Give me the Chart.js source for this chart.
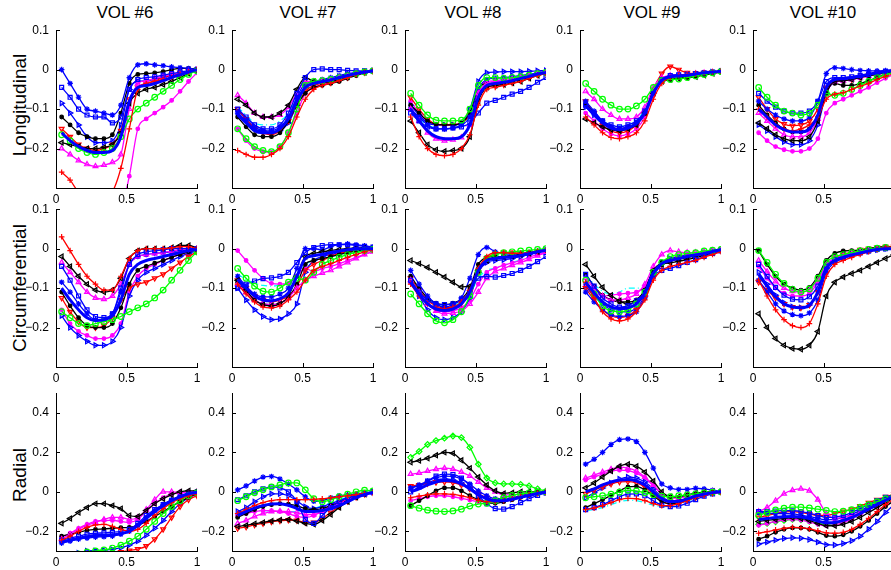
<!DOCTYPE html>
<html>
<head>
<meta charset="UTF-8">
<title>Strain curves per volunteer</title>
<script src="https://cdn.jsdelivr.net/npm/chart.js@4.4.1/dist/chart.umd.min.js"></script>
<style>
  html, body { margin: 0; padding: 0; background: #fff; overflow: hidden; }
  body { width: 891px; height: 570px; position: relative; font-family: "Liberation Sans", Arial, sans-serif; color: #000; }
  canvas { position: absolute; }
  .title { position: absolute; top: 4px; font-size: 17px; line-height: 17px; transform: translateX(-50%); white-space: nowrap; }
  .rowlab { position: absolute; left: 19px; font-size: 19px; line-height: 19px; transform: translate(-50%, -50%) rotate(-90deg); white-space: nowrap; }
</style>
</head>
<body>
<div class="title" style="left:125px">VOL #6</div>
<div class="title" style="left:308px">VOL #7</div>
<div class="title" style="left:473px">VOL #8</div>
<div class="title" style="left:652px">VOL #9</div>
<div class="title" style="left:823px">VOL #10</div>
<div class="rowlab" style="top:105px">Longitudinal</div>
<div class="rowlab" style="top:288px">Circumferential</div>
<div class="rowlab" style="top:475px">Radial</div>

<script>
  // normalised time (x) shared by every curve
  const xs = [0.04, 0.1, 0.16, 0.22, 0.28, 0.34, 0.4, 0.46, 0.52, 0.58, 0.64, 0.7, 0.76, 0.82, 0.88, 0.94, 1.0];
  const xTicks = [0, 0.5, 1];
  const yTicksStrain = [-0.2, -0.1, 0, 0.1];
  const yTicksRadial = [-0.2, 0, 0.2, 0.4];

  // series order: red+, green o, blue s, black <, magenta ^, blue *, black ., red v, blue >, magenta ., cyan -., mean, green d
  const long6 = [
    [-0.26,-0.28,-0.31,-0.32,-0.33,-0.33,-0.31,-0.25,-0.15,-0.05,-0.035,-0.03,-0.025,-0.02,-0.012,-0.006,0],
    [-0.165,-0.18,-0.2,-0.21,-0.215,-0.21,-0.2,-0.17,-0.125,-0.1,-0.085,-0.07,-0.055,-0.04,-0.025,-0.012,-0.003],
    [-0.045,-0.07,-0.1,-0.115,-0.12,-0.12,-0.135,-0.12,-0.05,-0.025,-0.02,-0.018,-0.014,-0.01,-0.006,-0.003,0],
    [-0.185,-0.19,-0.195,-0.2,-0.2,-0.197,-0.19,-0.16,-0.085,-0.06,-0.05,-0.045,-0.038,-0.03,-0.02,-0.01,-0.002],
    [-0.2,-0.215,-0.23,-0.24,-0.245,-0.242,-0.235,-0.215,-0.1,-0.035,-0.028,-0.022,-0.017,-0.012,-0.008,-0.004,0],
    [0,-0.035,-0.07,-0.1,-0.105,-0.11,-0.115,-0.09,-0.02,0.012,0.015,0.012,0.01,0.007,0.005,0.003,0],
    [-0.12,-0.14,-0.16,-0.17,-0.175,-0.175,-0.165,-0.11,-0.035,-0.012,-0.01,-0.008,-0.005,0,0.003,0.003,0.001],
    [-0.15,-0.17,-0.19,-0.2,-0.205,-0.2,-0.19,-0.155,-0.075,-0.045,-0.035,-0.028,-0.02,-0.013,-0.008,-0.004,0],
    [-0.085,-0.11,-0.14,-0.17,-0.185,-0.185,-0.18,-0.14,-0.05,-0.03,-0.028,-0.025,-0.02,-0.015,-0.01,-0.005,0],
    [-0.42,-0.43,-0.44,-0.44,-0.44,-0.43,-0.41,-0.36,-0.27,-0.15,-0.125,-0.11,-0.095,-0.078,-0.055,-0.03,-0.008],
    null,
    [-0.16,-0.18,-0.195,-0.205,-0.21,-0.21,-0.205,-0.17,-0.08,-0.045,-0.04,-0.035,-0.028,-0.02,-0.013,-0.006,0]
  ];
  const long7 = [
    [-0.205,-0.215,-0.222,-0.222,-0.215,-0.2,-0.17,-0.12,-0.075,-0.05,-0.04,-0.035,-0.028,-0.02,-0.012,-0.006,-0.003],
    [-0.15,-0.175,-0.195,-0.205,-0.208,-0.195,-0.16,-0.1,-0.04,-0.03,-0.028,-0.025,-0.02,-0.015,-0.01,-0.006,-0.003],
    [-0.1,-0.12,-0.14,-0.15,-0.15,-0.14,-0.11,-0.06,-0.02,0,0.002,0,0,-0.002,-0.003,-0.003,-0.003],
    [-0.075,-0.09,-0.11,-0.12,-0.12,-0.11,-0.09,-0.05,-0.02,-0.03,-0.032,-0.03,-0.025,-0.018,-0.012,-0.007,-0.004],
    [-0.065,-0.085,-0.11,-0.12,-0.12,-0.115,-0.095,-0.06,-0.03,-0.03,-0.028,-0.025,-0.02,-0.015,-0.01,-0.006,-0.003],
    [-0.11,-0.13,-0.15,-0.155,-0.155,-0.145,-0.12,-0.07,-0.035,-0.03,-0.025,-0.02,-0.015,-0.01,-0.007,-0.005,-0.003],
    [-0.12,-0.145,-0.165,-0.17,-0.17,-0.16,-0.13,-0.09,-0.06,-0.045,-0.04,-0.035,-0.03,-0.022,-0.015,-0.008,-0.004],
    [-0.1,-0.125,-0.15,-0.16,-0.165,-0.155,-0.13,-0.09,-0.055,-0.04,-0.035,-0.03,-0.025,-0.02,-0.012,-0.007,-0.004],
    [-0.105,-0.125,-0.145,-0.155,-0.16,-0.155,-0.135,-0.09,-0.045,-0.035,-0.03,-0.025,-0.018,-0.012,-0.008,-0.005,-0.003],
    [-0.15,-0.18,-0.2,-0.208,-0.21,-0.195,-0.16,-0.11,-0.06,-0.045,-0.038,-0.032,-0.025,-0.018,-0.012,-0.007,-0.004],
    [-0.095,-0.115,-0.135,-0.14,-0.14,-0.13,-0.11,-0.07,-0.04,-0.035,-0.03,-0.025,-0.02,-0.015,-0.01,-0.006,-0.003],
    [-0.115,-0.135,-0.155,-0.16,-0.16,-0.15,-0.125,-0.08,-0.045,-0.035,-0.03,-0.026,-0.02,-0.015,-0.01,-0.006,-0.003]
  ];
  const long8 = [
    [-0.12,-0.17,-0.2,-0.215,-0.218,-0.215,-0.2,-0.165,-0.09,-0.05,-0.045,-0.04,-0.035,-0.03,-0.022,-0.015,-0.01],
    [-0.06,-0.09,-0.115,-0.128,-0.13,-0.13,-0.128,-0.1,-0.04,-0.02,-0.02,-0.022,-0.02,-0.018,-0.014,-0.01,-0.007],
    [-0.11,-0.13,-0.145,-0.15,-0.15,-0.148,-0.145,-0.135,-0.11,-0.085,-0.078,-0.07,-0.062,-0.055,-0.045,-0.032,-0.02],
    [-0.13,-0.16,-0.19,-0.203,-0.207,-0.205,-0.2,-0.17,-0.08,-0.045,-0.04,-0.038,-0.034,-0.03,-0.022,-0.015,-0.01],
    [-0.1,-0.13,-0.16,-0.175,-0.18,-0.178,-0.172,-0.14,-0.06,-0.035,-0.03,-0.028,-0.024,-0.02,-0.015,-0.01,-0.006],
    [-0.1,-0.12,-0.14,-0.15,-0.15,-0.148,-0.14,-0.12,-0.05,-0.025,-0.022,-0.02,-0.018,-0.015,-0.012,-0.008,-0.005],
    [-0.09,-0.11,-0.13,-0.138,-0.14,-0.14,-0.135,-0.11,-0.05,-0.035,-0.035,-0.033,-0.03,-0.025,-0.02,-0.014,-0.008],
    [-0.07,-0.1,-0.125,-0.138,-0.14,-0.14,-0.135,-0.115,-0.06,-0.045,-0.04,-0.035,-0.03,-0.025,-0.018,-0.012,-0.008],
    [-0.09,-0.115,-0.135,-0.14,-0.14,-0.14,-0.135,-0.1,-0.03,-0.008,-0.006,-0.005,-0.005,-0.005,-0.004,-0.003,-0.002],
    [-0.08,-0.11,-0.13,-0.14,-0.142,-0.14,-0.135,-0.11,-0.05,-0.03,-0.028,-0.025,-0.022,-0.018,-0.014,-0.01,-0.006],
    [-0.1,-0.125,-0.14,-0.148,-0.15,-0.148,-0.14,-0.115,-0.055,-0.035,-0.03,-0.028,-0.025,-0.02,-0.015,-0.01,-0.006],
    [-0.1,-0.13,-0.155,-0.17,-0.175,-0.175,-0.17,-0.14,-0.07,-0.04,-0.035,-0.032,-0.028,-0.022,-0.017,-0.011,-0.007]
  ];
  const long9 = [
    [-0.12,-0.14,-0.16,-0.172,-0.175,-0.17,-0.16,-0.13,-0.075,-0.035,-0.02,-0.015,-0.012,-0.01,-0.008,-0.006,-0.004],
    [-0.035,-0.055,-0.075,-0.09,-0.1,-0.1,-0.092,-0.075,-0.045,-0.028,-0.025,-0.024,-0.02,-0.016,-0.012,-0.008,-0.005],
    [-0.09,-0.11,-0.13,-0.14,-0.145,-0.14,-0.13,-0.105,-0.06,-0.025,-0.015,-0.013,-0.012,-0.01,-0.008,-0.006,-0.004],
    [-0.125,-0.135,-0.145,-0.152,-0.155,-0.15,-0.14,-0.11,-0.06,-0.03,-0.025,-0.022,-0.02,-0.018,-0.014,-0.01,-0.006],
    [-0.055,-0.075,-0.1,-0.115,-0.125,-0.125,-0.12,-0.095,-0.045,-0.02,-0.015,-0.013,-0.012,-0.01,-0.008,-0.006,-0.004],
    [-0.08,-0.105,-0.13,-0.145,-0.15,-0.145,-0.135,-0.11,-0.06,-0.025,-0.015,-0.013,-0.012,-0.01,-0.008,-0.006,-0.004],
    [-0.085,-0.11,-0.13,-0.145,-0.15,-0.145,-0.135,-0.105,-0.055,-0.03,-0.025,-0.022,-0.02,-0.016,-0.012,-0.008,-0.005],
    [-0.08,-0.11,-0.14,-0.155,-0.16,-0.155,-0.14,-0.11,-0.05,-0.01,0.008,0,-0.008,-0.01,-0.008,-0.006,-0.004],
    [-0.095,-0.115,-0.135,-0.148,-0.152,-0.148,-0.135,-0.11,-0.06,-0.03,-0.02,-0.018,-0.015,-0.012,-0.009,-0.006,-0.004],
    [-0.11,-0.13,-0.15,-0.163,-0.168,-0.163,-0.15,-0.12,-0.065,-0.03,-0.02,-0.017,-0.015,-0.012,-0.009,-0.006,-0.004],
    [-0.09,-0.11,-0.13,-0.14,-0.143,-0.14,-0.13,-0.1,-0.055,-0.025,-0.018,-0.016,-0.014,-0.011,-0.008,-0.006,-0.004],
    [-0.09,-0.115,-0.135,-0.148,-0.152,-0.148,-0.137,-0.11,-0.06,-0.027,-0.018,-0.016,-0.014,-0.011,-0.008,-0.006,-0.004]
  ];
  const long10 = [
    [-0.1,-0.12,-0.14,-0.15,-0.155,-0.15,-0.14,-0.12,-0.075,-0.062,-0.058,-0.05,-0.042,-0.035,-0.025,-0.017,-0.01],
    [-0.045,-0.07,-0.09,-0.105,-0.11,-0.115,-0.11,-0.09,-0.06,-0.065,-0.06,-0.05,-0.04,-0.03,-0.02,-0.013,-0.007],
    [-0.06,-0.08,-0.095,-0.105,-0.11,-0.11,-0.105,-0.08,-0.03,-0.02,-0.02,-0.018,-0.015,-0.012,-0.008,-0.005,-0.002],
    [-0.135,-0.15,-0.165,-0.175,-0.18,-0.18,-0.17,-0.13,-0.06,-0.03,-0.028,-0.025,-0.02,-0.016,-0.012,-0.008,-0.004],
    [-0.11,-0.13,-0.15,-0.165,-0.17,-0.17,-0.16,-0.125,-0.06,-0.03,-0.028,-0.025,-0.02,-0.016,-0.012,-0.008,-0.004],
    [-0.08,-0.1,-0.115,-0.125,-0.13,-0.13,-0.12,-0.08,-0.01,0.005,0.003,0,-0.002,-0.003,-0.003,-0.002,-0.001],
    [-0.09,-0.115,-0.135,-0.15,-0.158,-0.158,-0.15,-0.12,-0.05,-0.035,-0.04,-0.04,-0.035,-0.028,-0.02,-0.012,-0.006],
    [-0.07,-0.1,-0.125,-0.138,-0.142,-0.14,-0.13,-0.1,-0.045,-0.03,-0.028,-0.025,-0.02,-0.015,-0.01,-0.006,-0.003],
    [-0.14,-0.155,-0.17,-0.183,-0.19,-0.19,-0.18,-0.14,-0.06,-0.03,-0.025,-0.022,-0.018,-0.014,-0.01,-0.006,-0.003],
    [-0.16,-0.18,-0.195,-0.203,-0.207,-0.207,-0.2,-0.175,-0.11,-0.085,-0.075,-0.065,-0.055,-0.045,-0.033,-0.022,-0.012],
    null,
    [-0.1,-0.12,-0.14,-0.152,-0.158,-0.158,-0.15,-0.115,-0.045,-0.025,-0.023,-0.02,-0.016,-0.012,-0.008,-0.005,-0.002]
  ];

  const circ6 = [
    [0.03,-0.005,-0.04,-0.07,-0.09,-0.105,-0.105,-0.07,-0.025,-0.005,0,0,0,0.002,0.005,0.005,0],
    [-0.16,-0.175,-0.19,-0.195,-0.19,-0.185,-0.18,-0.172,-0.16,-0.15,-0.14,-0.125,-0.105,-0.08,-0.055,-0.03,-0.008],
    [-0.045,-0.08,-0.12,-0.155,-0.172,-0.175,-0.165,-0.1,-0.04,-0.015,-0.008,-0.005,-0.003,0,0,0,0],
    [-0.02,-0.045,-0.07,-0.09,-0.105,-0.11,-0.105,-0.075,-0.025,-0.005,0,0,0,0.003,0.008,0.008,0.002],
    [-0.035,-0.06,-0.085,-0.11,-0.125,-0.128,-0.12,-0.09,-0.04,-0.02,-0.015,-0.012,-0.01,-0.006,-0.003,0,0],
    [-0.085,-0.11,-0.14,-0.165,-0.18,-0.18,-0.165,-0.11,-0.04,-0.02,-0.015,-0.012,-0.01,-0.008,-0.005,-0.003,0],
    [-0.11,-0.145,-0.175,-0.195,-0.2,-0.2,-0.19,-0.15,-0.09,-0.055,-0.045,-0.037,-0.03,-0.022,-0.015,-0.008,-0.003],
    [-0.125,-0.16,-0.185,-0.2,-0.2,-0.195,-0.175,-0.13,-0.1,-0.09,-0.085,-0.075,-0.065,-0.05,-0.035,-0.02,-0.008],
    [-0.17,-0.2,-0.22,-0.235,-0.245,-0.245,-0.235,-0.2,-0.12,-0.08,-0.06,-0.05,-0.04,-0.03,-0.02,-0.012,-0.005],
    [-0.155,-0.19,-0.21,-0.22,-0.228,-0.228,-0.22,-0.19,-0.11,-0.07,-0.05,-0.04,-0.03,-0.022,-0.015,-0.008,-0.003],
    null,
    [-0.1,-0.13,-0.155,-0.175,-0.182,-0.18,-0.17,-0.13,-0.065,-0.04,-0.03,-0.025,-0.02,-0.015,-0.01,-0.005,-0.002]
  ];
  const circ7 = [
    [-0.09,-0.115,-0.135,-0.148,-0.15,-0.145,-0.13,-0.11,-0.08,-0.055,-0.045,-0.038,-0.03,-0.022,-0.015,-0.008,-0.004],
    [-0.05,-0.075,-0.095,-0.108,-0.11,-0.1,-0.085,-0.075,-0.08,-0.06,-0.04,-0.03,-0.022,-0.015,-0.01,-0.005,-0.002],
    [-0.1,-0.09,-0.082,-0.076,-0.074,-0.07,-0.06,-0.035,-0.01,0.003,0.008,0.01,0.01,0.01,0.008,0.006,0.004],
    [-0.08,-0.105,-0.13,-0.142,-0.145,-0.14,-0.12,-0.07,-0.02,-0.012,-0.008,-0.005,-0.002,0,0.002,0.002,0.001],
    [-0.09,-0.11,-0.13,-0.14,-0.142,-0.138,-0.125,-0.1,-0.08,-0.07,-0.062,-0.055,-0.045,-0.035,-0.025,-0.015,-0.008],
    [-0.07,-0.095,-0.115,-0.122,-0.122,-0.115,-0.1,-0.05,0,0,-0.003,0.005,0.01,0.012,0.01,0.007,0.004],
    [-0.085,-0.11,-0.13,-0.14,-0.142,-0.138,-0.125,-0.09,-0.04,-0.03,-0.025,-0.02,-0.015,-0.01,-0.006,-0.003,-0.001],
    [-0.08,-0.1,-0.12,-0.13,-0.135,-0.13,-0.12,-0.095,-0.055,-0.04,-0.03,-0.02,-0.012,-0.008,-0.005,-0.003,-0.002],
    [-0.1,-0.13,-0.155,-0.172,-0.18,-0.178,-0.165,-0.14,-0.06,-0.03,-0.02,-0.015,-0.01,-0.006,-0.003,-0.001,0],
    [-0.005,-0.03,-0.055,-0.075,-0.088,-0.09,-0.088,-0.07,-0.05,-0.058,-0.05,-0.045,-0.038,-0.03,-0.022,-0.014,-0.006],
    [-0.065,-0.078,-0.088,-0.093,-0.095,-0.092,-0.085,-0.065,-0.04,-0.03,-0.025,-0.02,-0.015,-0.01,-0.006,-0.003,-0.001],
    [-0.078,-0.1,-0.12,-0.13,-0.132,-0.127,-0.112,-0.07,-0.025,-0.018,-0.014,-0.01,-0.006,-0.003,-0.001,0,0]
  ];
  const circ8 = [
    [-0.09,-0.12,-0.14,-0.15,-0.152,-0.148,-0.135,-0.105,-0.05,-0.02,-0.01,-0.01,-0.012,-0.012,-0.01,-0.007,-0.004],
    [-0.115,-0.14,-0.165,-0.183,-0.188,-0.18,-0.16,-0.12,-0.06,-0.025,-0.015,-0.01,-0.008,-0.006,-0.004,-0.002,0],
    [-0.08,-0.11,-0.13,-0.14,-0.142,-0.14,-0.13,-0.11,-0.075,-0.07,-0.072,-0.068,-0.063,-0.055,-0.045,-0.033,-0.02],
    [-0.03,-0.038,-0.048,-0.06,-0.072,-0.085,-0.097,-0.095,-0.055,-0.03,-0.023,-0.02,-0.018,-0.015,-0.012,-0.008,-0.005],
    [-0.08,-0.11,-0.14,-0.158,-0.165,-0.163,-0.158,-0.14,-0.11,-0.075,-0.058,-0.05,-0.042,-0.035,-0.027,-0.018,-0.01],
    [-0.055,-0.09,-0.12,-0.14,-0.148,-0.142,-0.125,-0.075,-0.015,0.003,-0.008,-0.013,-0.014,-0.012,-0.01,-0.006,-0.003],
    [-0.07,-0.1,-0.125,-0.138,-0.142,-0.138,-0.128,-0.1,-0.04,-0.022,-0.02,-0.02,-0.018,-0.015,-0.011,-0.007,-0.004],
    [-0.075,-0.105,-0.13,-0.145,-0.15,-0.147,-0.138,-0.11,-0.06,-0.025,-0.012,-0.01,-0.01,-0.012,-0.01,-0.007,-0.004],
    [-0.08,-0.12,-0.155,-0.175,-0.18,-0.175,-0.16,-0.125,-0.06,-0.035,-0.03,-0.028,-0.025,-0.02,-0.015,-0.009,-0.005],
    [-0.085,-0.115,-0.14,-0.155,-0.16,-0.157,-0.15,-0.13,-0.09,-0.06,-0.05,-0.042,-0.036,-0.03,-0.022,-0.015,-0.008],
    [-0.085,-0.11,-0.13,-0.142,-0.145,-0.142,-0.135,-0.115,-0.075,-0.055,-0.05,-0.042,-0.035,-0.028,-0.02,-0.012,-0.006],
    [-0.085,-0.115,-0.14,-0.153,-0.157,-0.153,-0.14,-0.11,-0.055,-0.03,-0.025,-0.022,-0.02,-0.017,-0.013,-0.008,-0.004]
  ];
  const circ9 = [
    [-0.085,-0.125,-0.16,-0.178,-0.183,-0.178,-0.16,-0.13,-0.08,-0.055,-0.045,-0.04,-0.035,-0.03,-0.022,-0.015,-0.008],
    [-0.08,-0.115,-0.145,-0.158,-0.16,-0.155,-0.14,-0.11,-0.06,-0.035,-0.02,-0.015,-0.012,-0.01,-0.006,-0.004,-0.002],
    [-0.065,-0.095,-0.125,-0.14,-0.148,-0.145,-0.132,-0.11,-0.07,-0.055,-0.05,-0.043,-0.035,-0.028,-0.02,-0.012,-0.006],
    [-0.04,-0.07,-0.098,-0.118,-0.132,-0.14,-0.132,-0.105,-0.055,-0.04,-0.036,-0.032,-0.028,-0.023,-0.017,-0.011,-0.006],
    [-0.075,-0.1,-0.12,-0.13,-0.13,-0.125,-0.115,-0.09,-0.045,-0.015,-0.005,-0.008,-0.01,-0.01,-0.008,-0.005,-0.003],
    [-0.11,-0.135,-0.155,-0.168,-0.172,-0.17,-0.16,-0.125,-0.07,-0.04,-0.03,-0.025,-0.02,-0.016,-0.012,-0.007,-0.003],
    [-0.065,-0.095,-0.118,-0.13,-0.135,-0.135,-0.13,-0.105,-0.055,-0.035,-0.03,-0.027,-0.023,-0.018,-0.013,-0.008,-0.004],
    [-0.1,-0.13,-0.155,-0.17,-0.175,-0.17,-0.155,-0.125,-0.07,-0.04,-0.03,-0.025,-0.02,-0.016,-0.012,-0.008,-0.004],
    [-0.095,-0.12,-0.14,-0.155,-0.16,-0.16,-0.15,-0.12,-0.065,-0.035,-0.025,-0.02,-0.017,-0.014,-0.01,-0.006,-0.003],
    [-0.09,-0.11,-0.12,-0.118,-0.115,-0.113,-0.11,-0.095,-0.06,-0.035,-0.025,-0.02,-0.016,-0.013,-0.01,-0.006,-0.003],
    [-0.065,-0.09,-0.108,-0.115,-0.11,-0.1,-0.1,-0.1,-0.07,-0.04,-0.03,-0.025,-0.02,-0.016,-0.012,-0.007,-0.003],
    [-0.085,-0.112,-0.135,-0.148,-0.152,-0.15,-0.14,-0.112,-0.062,-0.038,-0.03,-0.025,-0.02,-0.016,-0.012,-0.007,-0.003]
  ];
  const circ10 = [
    [-0.08,-0.12,-0.155,-0.18,-0.195,-0.2,-0.19,-0.14,-0.07,-0.04,-0.03,-0.022,-0.015,-0.008,-0.002,0.003,0.005],
    [-0.005,-0.035,-0.065,-0.088,-0.103,-0.11,-0.102,-0.075,-0.035,-0.02,-0.015,-0.01,-0.006,-0.002,0.001,0.003,0.003],
    [-0.04,-0.07,-0.098,-0.118,-0.128,-0.13,-0.122,-0.095,-0.045,-0.028,-0.02,-0.015,-0.01,-0.006,-0.002,0,0],
    [-0.165,-0.2,-0.228,-0.245,-0.253,-0.255,-0.245,-0.21,-0.12,-0.085,-0.072,-0.063,-0.055,-0.045,-0.035,-0.025,-0.015],
    [-0.03,-0.058,-0.083,-0.1,-0.108,-0.11,-0.105,-0.08,-0.04,-0.025,-0.018,-0.012,-0.008,-0.004,0,0.002,0.002],
    [-0.08,-0.11,-0.14,-0.158,-0.167,-0.17,-0.163,-0.13,-0.06,-0.035,-0.025,-0.018,-0.012,-0.007,-0.003,0,0],
    [-0.005,-0.04,-0.07,-0.09,-0.1,-0.105,-0.098,-0.07,-0.03,-0.012,-0.006,-0.005,-0.003,0,0.003,0.005,0.005],
    [-0.085,-0.105,-0.125,-0.14,-0.148,-0.15,-0.143,-0.11,-0.05,-0.025,-0.015,-0.008,-0.003,0,0.003,0.005,0.006],
    [-0.06,-0.09,-0.118,-0.137,-0.147,-0.15,-0.143,-0.11,-0.05,-0.03,-0.022,-0.016,-0.011,-0.007,-0.003,0,0],
    [-0.045,-0.075,-0.1,-0.113,-0.12,-0.12,-0.113,-0.085,-0.04,-0.024,-0.016,-0.01,-0.006,-0.003,0,0.002,0.002],
    null,
    [-0.065,-0.095,-0.122,-0.14,-0.148,-0.15,-0.143,-0.11,-0.05,-0.03,-0.022,-0.016,-0.011,-0.006,-0.002,0,0]
  ];

  const rad6 = [
    [-0.245,-0.225,-0.2,-0.18,-0.168,-0.165,-0.175,-0.19,-0.2,-0.19,-0.16,-0.12,-0.085,-0.055,-0.035,-0.02,-0.01],
    [-0.33,-0.32,-0.315,-0.305,-0.3,-0.295,-0.285,-0.27,-0.25,-0.225,-0.19,-0.15,-0.11,-0.075,-0.045,-0.02,-0.005],
    [-0.245,-0.235,-0.225,-0.215,-0.21,-0.208,-0.205,-0.2,-0.19,-0.16,-0.12,-0.09,-0.065,-0.045,-0.028,-0.013,-0.003],
    [-0.16,-0.135,-0.105,-0.08,-0.06,-0.06,-0.07,-0.085,-0.12,-0.125,-0.095,-0.06,-0.035,-0.015,0,0.005,0.005],
    [-0.24,-0.215,-0.19,-0.17,-0.155,-0.14,-0.13,-0.13,-0.14,-0.13,-0.09,-0.04,0,0,-0.003,-0.003,0],
    [-0.26,-0.25,-0.24,-0.235,-0.23,-0.228,-0.225,-0.215,-0.2,-0.17,-0.13,-0.095,-0.065,-0.04,-0.022,-0.008,0],
    [-0.225,-0.215,-0.205,-0.195,-0.19,-0.188,-0.185,-0.182,-0.18,-0.17,-0.15,-0.125,-0.1,-0.075,-0.05,-0.028,-0.01],
    [-0.36,-0.35,-0.34,-0.33,-0.325,-0.32,-0.315,-0.305,-0.298,-0.29,-0.275,-0.24,-0.19,-0.13,-0.075,-0.04,-0.02],
    [-0.33,-0.32,-0.31,-0.3,-0.298,-0.296,-0.292,-0.283,-0.27,-0.25,-0.22,-0.185,-0.145,-0.1,-0.06,-0.03,-0.01],
    [-0.23,-0.21,-0.185,-0.165,-0.15,-0.145,-0.145,-0.15,-0.155,-0.14,-0.1,-0.06,-0.03,-0.012,-0.005,-0.002,0],
    null,
    [-0.255,-0.245,-0.235,-0.228,-0.222,-0.22,-0.218,-0.212,-0.2,-0.17,-0.135,-0.1,-0.07,-0.045,-0.025,-0.01,-0.002]
  ];
  const rad7 = [
    [-0.11,-0.09,-0.07,-0.055,-0.045,-0.04,-0.04,-0.04,-0.04,-0.038,-0.035,-0.03,-0.025,-0.02,-0.014,-0.008,-0.003],
    [-0.045,-0.025,-0.005,0.01,0.025,0.035,0.045,0.045,0.01,-0.035,-0.05,-0.04,-0.025,-0.012,0,0.008,0.005],
    [-0.04,-0.02,0,0.015,0.025,0.02,0,-0.05,-0.14,-0.16,-0.12,-0.08,-0.05,-0.03,-0.02,-0.01,0],
    [-0.175,-0.17,-0.162,-0.155,-0.148,-0.143,-0.14,-0.148,-0.16,-0.165,-0.145,-0.115,-0.08,-0.05,-0.028,-0.012,-0.003],
    [-0.16,-0.145,-0.125,-0.11,-0.1,-0.098,-0.1,-0.105,-0.115,-0.115,-0.1,-0.08,-0.06,-0.04,-0.025,-0.012,-0.003],
    [0.01,0.03,0.055,0.075,0.078,0.065,0.04,0.01,-0.025,-0.048,-0.045,-0.03,-0.02,-0.015,-0.01,-0.005,0],
    [-0.13,-0.11,-0.09,-0.075,-0.065,-0.06,-0.062,-0.07,-0.085,-0.09,-0.085,-0.07,-0.055,-0.04,-0.025,-0.012,-0.003],
    [-0.185,-0.178,-0.168,-0.16,-0.152,-0.147,-0.143,-0.145,-0.155,-0.155,-0.135,-0.105,-0.075,-0.048,-0.027,-0.012,-0.003],
    [-0.1,-0.08,-0.05,-0.025,-0.01,-0.01,-0.02,-0.045,-0.075,-0.085,-0.075,-0.06,-0.045,-0.03,-0.018,-0.008,-0.002],
    [-0.12,-0.11,-0.1,-0.095,-0.095,-0.1,-0.11,-0.125,-0.13,-0.12,-0.095,-0.07,-0.05,-0.035,-0.022,-0.01,-0.003],
    [-0.11,-0.1,-0.095,-0.095,-0.097,-0.1,-0.1,-0.1,-0.095,-0.085,-0.07,-0.055,-0.04,-0.027,-0.016,-0.007,-0.002],
    [-0.12,-0.1,-0.083,-0.07,-0.062,-0.06,-0.068,-0.085,-0.1,-0.1,-0.095,-0.085,-0.07,-0.05,-0.03,-0.013,-0.003]
  ];
  const rad8 = [
    [-0.03,-0.022,-0.015,-0.01,-0.01,-0.013,-0.02,-0.03,-0.042,-0.05,-0.05,-0.045,-0.035,-0.025,-0.015,-0.008,-0.003],
    [-0.07,-0.083,-0.093,-0.098,-0.1,-0.097,-0.088,-0.072,-0.062,-0.058,-0.045,-0.03,-0.018,-0.01,-0.005,-0.002,0],
    [0,0.025,0.055,0.08,0.09,0.088,0.07,0.03,-0.02,-0.06,-0.085,-0.088,-0.075,-0.055,-0.035,-0.018,-0.005],
    [0.15,0.158,0.17,0.185,0.2,0.195,0.16,0.12,0.075,0.035,0.005,-0.008,-0.005,0,0,0,0],
    [0.09,0.095,0.105,0.115,0.12,0.115,0.1,0.08,0.05,0.02,0,-0.015,-0.015,-0.01,-0.005,0,0],
    [0.02,0.035,0.055,0.072,0.08,0.078,0.065,0.04,0.005,-0.02,-0.035,-0.035,-0.03,-0.02,-0.012,-0.006,-0.002],
    [-0.07,-0.045,-0.02,0.005,0.02,0.02,0.005,-0.02,-0.04,-0.055,-0.058,-0.05,-0.04,-0.028,-0.017,-0.008,-0.002],
    [0.03,0.035,0.042,0.048,0.05,0.047,0.035,0.015,-0.01,-0.03,-0.04,-0.038,-0.03,-0.02,-0.012,-0.005,-0.001],
    [0.02,0.03,0.045,0.06,0.065,0.06,0.045,0.02,-0.01,-0.035,-0.045,-0.045,-0.038,-0.028,-0.017,-0.008,-0.002],
    [-0.045,-0.035,-0.025,-0.02,-0.02,-0.025,-0.033,-0.042,-0.05,-0.05,-0.045,-0.038,-0.03,-0.02,-0.012,-0.005,-0.001],
    null,
    [0,0.015,0.035,0.05,0.058,0.055,0.04,0.015,-0.015,-0.035,-0.045,-0.045,-0.038,-0.028,-0.018,-0.008,-0.002],
    [0.175,0.205,0.24,0.26,0.272,0.283,0.275,0.225,0.14,0.07,0.045,0.04,0.04,0.038,0.03,0.015,0.003]
  ];
  const rad9 = [
    [-0.09,-0.083,-0.07,-0.055,-0.04,-0.033,-0.035,-0.045,-0.06,-0.07,-0.07,-0.06,-0.045,-0.03,-0.018,-0.008,-0.002],
    [-0.03,-0.025,-0.02,-0.012,-0.002,0.008,0.005,-0.005,-0.015,-0.022,-0.025,-0.02,-0.015,-0.01,-0.005,-0.002,0],
    [-0.09,-0.08,-0.065,-0.045,-0.025,-0.012,-0.01,-0.02,-0.045,-0.068,-0.075,-0.072,-0.058,-0.04,-0.022,-0.01,-0.002],
    [0.02,0.045,0.075,0.105,0.13,0.14,0.13,0.1,0.055,0,-0.025,-0.025,-0.015,-0.007,-0.002,0,0],
    [0.07,0.085,0.1,0.115,0.125,0.12,0.105,0.075,0.035,-0.01,-0.03,-0.03,-0.02,-0.01,-0.004,0,0],
    [0.14,0.165,0.2,0.24,0.265,0.268,0.255,0.2,0.12,0.04,0.02,0.012,0.012,0.018,0.015,0.008,0.002],
    [-0.08,-0.06,-0.04,-0.018,0.005,0.025,0.028,0.01,-0.02,-0.05,-0.06,-0.055,-0.04,-0.025,-0.013,-0.005,0],
    [-0.01,0.008,0.025,0.04,0.05,0.052,0.045,0.025,-0.01,-0.045,-0.063,-0.058,-0.042,-0.027,-0.015,-0.006,-0.001],
    [-0.03,-0.005,0.02,0.045,0.065,0.075,0.07,0.05,0.015,-0.025,-0.045,-0.045,-0.033,-0.02,-0.01,-0.004,0],
    [0.06,0.075,0.09,0.105,0.11,0.108,0.095,0.07,0.03,-0.01,-0.03,-0.03,-0.02,-0.01,-0.004,0,0],
    [-0.095,-0.09,-0.08,-0.065,-0.05,-0.043,-0.045,-0.055,-0.068,-0.075,-0.072,-0.062,-0.047,-0.032,-0.018,-0.008,-0.002],
    [0,0.015,0.035,0.05,0.06,0.062,0.055,0.035,0,-0.035,-0.05,-0.048,-0.036,-0.022,-0.011,-0.004,0]
  ];
  const rad10 = [
    [-0.21,-0.202,-0.193,-0.185,-0.18,-0.182,-0.188,-0.198,-0.208,-0.21,-0.205,-0.19,-0.165,-0.135,-0.1,-0.065,-0.035],
    [-0.12,-0.105,-0.092,-0.083,-0.078,-0.078,-0.082,-0.088,-0.094,-0.1,-0.098,-0.09,-0.078,-0.065,-0.05,-0.035,-0.02],
    [-0.1,-0.1,-0.097,-0.095,-0.096,-0.1,-0.108,-0.12,-0.13,-0.128,-0.12,-0.105,-0.085,-0.065,-0.045,-0.028,-0.015],
    [-0.15,-0.145,-0.14,-0.135,-0.132,-0.135,-0.145,-0.16,-0.172,-0.172,-0.165,-0.15,-0.13,-0.105,-0.08,-0.055,-0.03],
    [-0.1,-0.08,-0.045,-0.01,0.008,0.015,0.005,-0.04,-0.11,-0.135,-0.13,-0.12,-0.105,-0.09,-0.07,-0.05,-0.03],
    [-0.105,-0.108,-0.11,-0.11,-0.112,-0.118,-0.125,-0.135,-0.142,-0.14,-0.13,-0.115,-0.095,-0.075,-0.055,-0.035,-0.02],
    [-0.24,-0.225,-0.205,-0.19,-0.183,-0.183,-0.19,-0.205,-0.222,-0.225,-0.218,-0.2,-0.175,-0.145,-0.11,-0.075,-0.045],
    [-0.13,-0.12,-0.11,-0.102,-0.1,-0.105,-0.112,-0.12,-0.12,-0.11,-0.1,-0.088,-0.072,-0.055,-0.04,-0.025,-0.012],
    [-0.265,-0.255,-0.245,-0.237,-0.233,-0.235,-0.242,-0.255,-0.268,-0.27,-0.262,-0.248,-0.225,-0.19,-0.15,-0.105,-0.065],
    [-0.17,-0.16,-0.15,-0.142,-0.14,-0.143,-0.152,-0.165,-0.172,-0.168,-0.155,-0.138,-0.115,-0.09,-0.065,-0.042,-0.022],
    null,
    [-0.14,-0.135,-0.13,-0.126,-0.125,-0.128,-0.135,-0.148,-0.157,-0.155,-0.145,-0.13,-0.11,-0.088,-0.065,-0.043,-0.025],
    [-0.165,-0.16,-0.152,-0.145,-0.14,-0.142,-0.15,-0.16,-0.165,-0.16,-0.148,-0.13,-0.105,-0.08,-0.06,-0.04,-0.02]
  ];

  // styles per series slot
  const seriesColors = ['#ff0000', '#00ff00', '#0000ff', '#000000', '#ff00ff', '#0000ff', '#000000', '#ff0000', '#0000ff', '#ff00ff', '#00ffff', '#0000ff', '#00ff00'];
  const seriesMarkers = ['cross', 'circle', 'rect', 'triangle', 'triangle', 'star', 'circle', 'triangle', 'triangle', 'circle', false, false, 'rectRot'];
  const markerTurn = [0, 0, 0, -90, 0, 0, 0, 180, 90, 0, 0, 0, 0];
  const smallDots = [6, 9];

  const rows = [
    { panels: [long6, long7, long8, long9, long10], min: -0.3, max: 0.1, ticks: yTicksStrain, top: 28 },
    { panels: [circ6, circ7, circ8, circ9, circ10], min: -0.3, max: 0.1, ticks: yTicksStrain, top: 207 },
    { panels: [rad6, rad7, rad8, rad9, rad10], min: -0.3, max: 0.5, ticks: yTicksRadial, top: 391 }
  ];
  const colLefts = [56, 232, 405, 580, 753];
  const plotW = 141, plotH = 160;
  const padL = 40, padT = 12, padR = 10, padB = 22;

  const fmt = v => v < 0 ? '\u2212' + String(Math.abs(v)) : String(v);
  const tickFont = { family: '"Liberation Sans", Arial, sans-serif', size: 12 };

  // MATLAB style inward tick marks
  const inwardTicks = {
    id: 'inwardTicks',
    afterDraw(chart) {
      const { ctx, chartArea, scales: { x, y } } = chart;
      ctx.save();
      ctx.strokeStyle = '#000';
      ctx.lineWidth = 1;
      ctx.beginPath();
      x.ticks.forEach(t => {
        const px = Math.round(x.getPixelForValue(t.value)) + 0.5;
        ctx.moveTo(px, chartArea.bottom);
        ctx.lineTo(px, chartArea.bottom - 4);
      });
      y.ticks.forEach(t => {
        const py = Math.round(y.getPixelForValue(t.value)) + 0.5;
        ctx.moveTo(chartArea.left, py);
        ctx.lineTo(chartArea.left + 4, py);
      });
      ctx.stroke();
      ctx.restore();
    }
  };

  function buildDatasets(series) {
    const out = [];
    series.forEach((vals, i) => {
      if (!vals) return;
      const dot = smallDots.includes(i);
      out.push({
        data: vals.map((v, k) => ({ x: xs[k], y: v })),
        borderColor: seriesColors[i],
        borderWidth: i === 11 ? 3 : 1.3,
        borderDash: i === 10 ? [6, 3, 1, 3] : [],
        pointStyle: seriesMarkers[i] || 'circle',
        pointRadius: seriesMarkers[i] ? (dot ? 1.8 : 2.8) : 0,
        pointRotation: markerTurn[i],
        pointBorderColor: seriesColors[i],
        pointBackgroundColor: dot ? seriesColors[i] : 'rgba(0,0,0,0)',
        pointBorderWidth: 1.2,
        cubicInterpolationMode: 'monotone',
        fill: false,
        order: i === 11 ? 0 : 1
      });
    });
    return out;
  }

  rows.forEach(row => {
    row.panels.forEach((series, c) => {
      const cv = document.createElement('canvas');
      cv.width = plotW + padL + padR;
      cv.height = plotH + padT + padB;
      cv.style.left = (colLefts[c] - padL) + 'px';
      cv.style.top = (row.top - padT) + 'px';
      document.body.appendChild(cv);

      new Chart(cv.getContext('2d'), {
        type: 'line',
        data: { datasets: buildDatasets(series) },
        options: {
          responsive: false,
          animation: false,
          devicePixelRatio: 1,
          events: [],
          layout: { padding: { top: padT, right: padR, bottom: 0, left: 0 } },
          plugins: { legend: { display: false }, tooltip: { enabled: false } },
          scales: {
            x: {
              type: 'linear', min: 0, max: 1,
              afterBuildTicks: s => { s.ticks = xTicks.map(v => ({ value: v })); },
              afterFit: s => { s.height = padB; },
              grid: { display: false, drawTicks: false },
              border: { display: true, color: '#000', width: 1 },
              ticks: { padding: 4, autoSkip: false, maxRotation: 0, color: '#000', font: tickFont, callback: fmt }
            },
            y: {
              type: 'linear', min: row.min, max: row.max,
              afterBuildTicks: s => { s.ticks = row.ticks.map(v => ({ value: v })); },
              afterFit: s => { s.width = padL; },
              grid: { display: false, drawTicks: false },
              border: { display: true, color: '#000', width: 1 },
              ticks: { padding: 7, autoSkip: false, color: '#000', font: tickFont, callback: fmt }
            }
          }
        },
        plugins: [inwardTicks]
      });
    });
  });
</script>
</body>
</html>
